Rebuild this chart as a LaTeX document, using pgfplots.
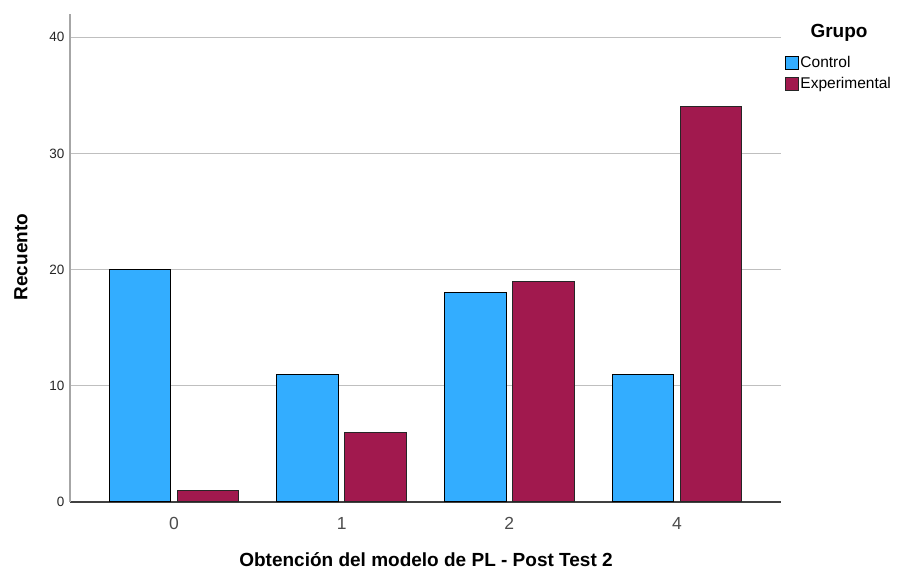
\documentclass[border=0pt]{standalone}
\usepackage{pgfplots}
\pgfplotsset{compat=1.18}
\usepackage{fontspec}
\setmainfont{Liberation Sans}
\definecolor{ctrl}{RGB}{51,173,255}
\definecolor{expc}{RGB}{161,25,78}
\begin{document}
\begin{tikzpicture}
\useasboundingbox (0,0) rectangle (899pt,572pt);
\begin{axis}[
  at={(70pt,70pt)}, anchor=south west,
  scale only axis, width=711pt, height=488pt,
  xmin=-0.62, xmax=3.62, ymin=0, ymax=42,
  clip=false,
  ybar, bar width=61.5pt,
  axis lines*=left,
  x axis line style={black!75, line width=1.2pt},
  y axis line style={black!35, line width=1.6pt},
  ymajorgrids, grid style={black!25, line width=1.2pt},
  major tick length=0pt,
  xtick={0,1,2,3}, xticklabels={0,1,2,4},
  ytick={0,10,20,30,40},
  /pgf/number format/assume math mode=true,
  yticklabel style={font=\fontsize{13.5}{13.5}\selectfont, text=black!85, xshift=-2pt},
  xticklabel style={font=\fontsize{17.5}{17.5}\selectfont, text=black!70, yshift=-12pt},
  xlabel={Obtención del modelo de PL - Post Test 2},
  ylabel={Recuento},
  xlabel style={font=\bfseries\fontsize{19}{19}\selectfont, at={(axis description cs:0.5007,-0.119)}, anchor=center},
  ylabel style={font=\bfseries\fontsize{19}{19}\selectfont, at={(axis description cs:-0.069,0.502)}, anchor=center},
  legend style={draw=none, fill=none, at={(1.0056,0.917)}, anchor=north west,
    font=\fontsize{15.5}{15.5}\selectfont, inner sep=0pt,
    nodes={inner sep=1.5pt, text height=11pt, text depth=3pt},
    row sep=4pt},
  legend cell align=left,
  legend image code/.code={\draw[#1, line width=0.8pt] (0pt,-6.5pt) rectangle (13pt,6.5pt);},
]
\addplot[fill=ctrl, draw=black, line width=1pt, bar shift=-34pt] coordinates {(0,20) (1,11) (2,18) (3,11)};
\addplot[fill=expc, draw=black!85, line width=1pt, bar shift=34pt] coordinates {(0,1) (1,6) (2,19) (3,34)};
\legend{Control, Experimental}
\node[font=\bfseries\fontsize{19}{19}\selectfont, anchor=center] at (rel axis cs:1.0816,0.961) {Grupo};
\end{axis}
\end{tikzpicture}
\end{document}
